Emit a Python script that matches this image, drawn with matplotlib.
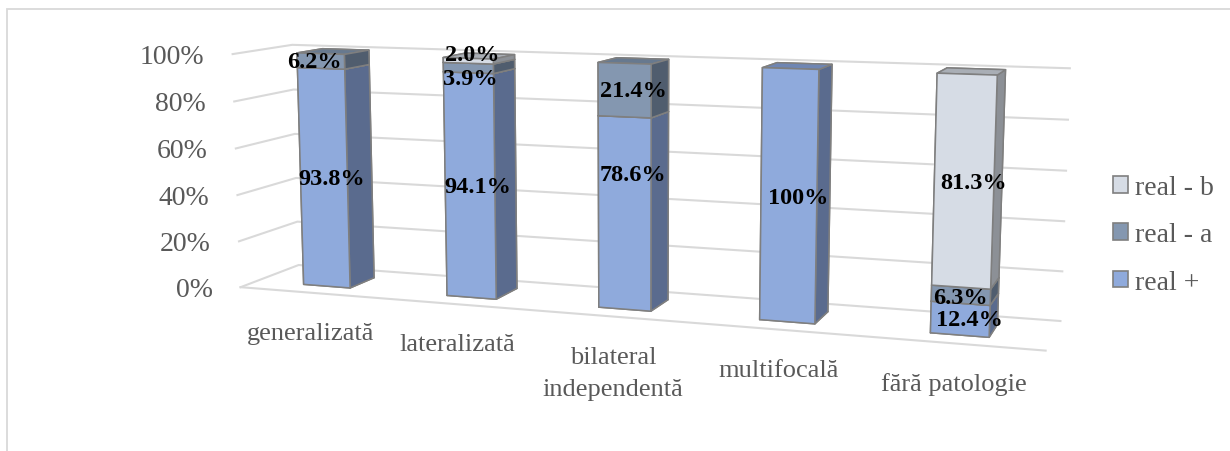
import numpy as np
import matplotlib
matplotlib.use('Agg')
import matplotlib.pyplot as plt
from matplotlib.patches import Patch, Rectangle
from mpl_toolkits.mplot3d import proj3d

plt.rcParams['font.family'] = ['Liberation Serif', 'DejaVu Sans']

# date
categorii = ['generalizată', 'lateralizată', 'bilateral\nindependentă', 'multifocală', 'fără patologie']
real_plus = [93.8, 94.1, 78.6, 100, 12.4]
real_a = [6.2, 3.9, 21.4, 0, 6.3]
real_b = [0, 2.0, 0, 0, 81.3]
etichete_plus = ['93.8%', '94.1%', '78.6%', '100%', '12.4%']
etichete_a = ['6.2%', '3.9%', '21.4%', '', '6.3%']
etichete_b = ['', '2.0%', '', '', '81.3%']
valori_axa = [0, 20, 40, 60, 80, 100]

# culori: fata, lateral, capac
culori = {
    'real +': ('#8FAADC', '#5A6B8E', '#6F86B3'),
    'real - a': ('#8497B0', '#505D6E', '#67798F'),
    'real - b': ('#D6DCE5', '#8C9096', '#A9AEB5'),
}
serii = [('real +', real_plus, etichete_plus),
         ('real - a', real_a, etichete_a),
         ('real - b', real_b, etichete_b)]

# etichete mutate de mana (pixeli: dx, dy)
deplasare = {(0, 'real - a'): (-14, 0), (1, 'real - a'): (-6, -10),
             (1, 'real - b'): (-4, 7), (2, 'real +'): (0, 40), (4, 'real - a'): (-10, -2)}

gri_text = '#595959'
gri_grid = '#D9D9D9'
gri_contur = '#7F7F7F'

n = len(categorii)
adancime = 0.74      # adancimea podelei
latime = 0.33        # latura coloanei
inaltime = 1.475     # inaltimea peretelui, in unitati de categorie

W, H = 1230, 452
fig = plt.figure(figsize=(W / 100, H / 100), dpi=100)
ax = fig.add_axes([0, 0, 1, 1], projection='3d', computed_zorder=False, facecolor='none')

# pereti: linii de grila pe peretele stang si pe cel din spate
for v in valori_axa:
    ax.plot([0, 0, n], [0, adancime, adancime], [v, v, v], color=gri_grid, lw=1.5,
            zorder=1, clip_on=False)
ax.plot([0, n], [0, 0], [0, 0], color=gri_grid, lw=1.5, zorder=1, clip_on=False)

# coloane stivuite, de la stanga la dreapta, de jos in sus
y0 = (adancime - latime) / 2
for i in range(n):
    baza = 0
    for nume, valori, etichete in serii:
        v = valori[i]
        if v <= 0:
            continue
        fata, lateral, capac = culori[nume]
        ax.bar3d(i + 0.5 - latime / 2, y0, baza, latime, latime, v,
                 color=[lateral, capac, fata, lateral, lateral, lateral],
                 shade=False, edgecolor=gri_contur, linewidth=1.1, zorder=2, clip_on=False)
        baza += v

ax.set_xlim(0, n)
ax.set_ylim(0, adancime)
ax.set_zlim(0, 100)
ax.set_box_aspect((n, adancime, inaltime))
ax.view_init(elev=9, azim=-71)
ax.set_proj_type('persp', focal_length=0.4)
ax.set_axis_off()

# asezarea cutiei 3D: colturile peretilor in pixeli (y de sus in jos)
colturi = [(0, adancime, 100), (0, adancime, 0), (0, 0, 100), (0, 0, 0),
           (n, adancime, 100), (n, adancime, 0), (n, 0, 0)]
pixeli = [(300, 44), (300, 263), (228, 55), (237, 286),
          (1072, 72), (1061, 323), (1042, 355)]
fig.canvas.draw()
M = ax.get_proj()
px, py, _ = proj3d.proj_transform(*np.array(colturi, dtype=float).T, M)
frac = ax.transAxes.inverted().transform(ax.transData.transform(np.column_stack([px, py])))
tinta = np.array([(x, H - y) for x, y in pixeli], dtype=float)
A = np.zeros((2 * len(frac), 3))
A[0::2, 0] = 1
A[0::2, 2] = frac[:, 0]
A[1::2, 1] = 1
A[1::2, 2] = frac[:, 1]
ox, oy, s = np.linalg.lstsq(A, tinta.ravel(), rcond=None)[0]
ax.set_position([ox / W, oy / H, s / W, s / H])


def eticheta(x, y, z, text, dx=0, dy=0, **kw):
    # text plan pus in punctul proiectat al unui punct 3D
    ex, ey, _ = proj3d.proj_transform(x, y, z, M)
    ax.annotate(text, (ex, ey), xytext=(dx, dy), textcoords='offset pixels',
                annotation_clip=False, **kw)


# etichetele valorilor, pe fata fiecarui segment
for i in range(n):
    baza = 0
    for nume, valori, etichete in serii:
        v = valori[i]
        if v <= 0:
            continue
        dx, dy = deplasare.get((i, nume), (0, 0))
        eticheta(i + 0.5 + latime / 6, y0, baza + v / 2, etichete[i], dx=dx, dy=dy,
                 ha='center', va='center', fontsize=17.5, fontweight='bold', color='black')
        baza += v

# etichetele axei de valori, la capatul din fata al liniilor
for v in valori_axa:
    eticheta(0, 0, v, f'{v}%', dx=-28, dy=-2, ha='right', va='center', fontsize=20, color=gri_text)

# etichetele categoriilor, sub marginea din fata a podelei
for i, c in enumerate(categorii):
    eticheta(i + 0.5, 0, 0, c, dy=-29, ha='center', va='top', fontsize=19, color=gri_text,
             multialignment='center', linespacing=1.6)

# legenda
ordine = ['real - b', 'real - a', 'real +']
manere = [Patch(facecolor=culori[k][0], edgecolor=gri_contur, linewidth=1.2) for k in ordine]
fig.legend(manere, ordine, loc='center left', bbox_to_anchor=(1113 / W, 1 - 236 / H),
           frameon=False, fontsize=20, labelcolor=gri_text, handlelength=0.55,
           handleheight=0.55, handletextpad=0.25, labelspacing=0.8,
           borderpad=0, borderaxespad=0)

# chenarul zonei graficului
fig.add_artist(Rectangle((7 / W, -0.1), 1.2, 1.1 - 10 / H, transform=fig.transFigure,
                         fill=False, edgecolor=gri_grid, linewidth=1.3))

fig.savefig('out.png', dpi=100)
